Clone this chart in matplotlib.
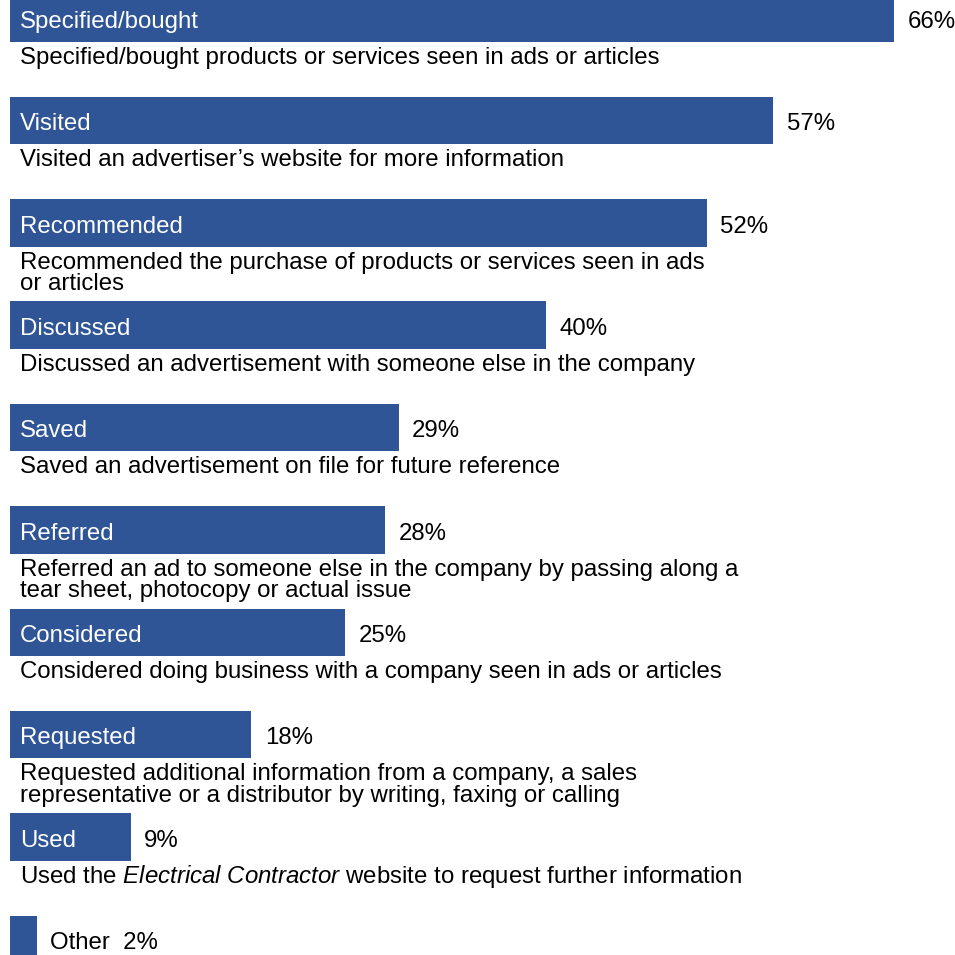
import matplotlib
matplotlib.use("Agg")
import matplotlib.pyplot as plt

plt.rcParams["font.family"] = ["Liberation Sans", "DejaVu Sans"]
plt.rcParams["mathtext.fontset"] = "custom"
plt.rcParams["mathtext.rm"] = "Liberation Sans"
plt.rcParams["mathtext.it"] = "Liberation Sans:italic"

# Survey responses: actions taken after seeing ads or articles
labels = ["Specified/bought", "Visited", "Recommended", "Discussed", "Saved",
          "Referred", "Considered", "Requested", "Used", "Other"]
values = [66, 57, 52, 40, 29, 28, 25, 18, 9, 2]
descriptions = [
    "Specified/bought products or services seen in ads or articles",
    "Visited an advertiser\u2019s website for more information",
    "Recommended the purchase of products or services seen in ads\nor articles",
    "Discussed an advertisement with someone else in the company",
    "Saved an advertisement on file for future reference",
    "Referred an ad to someone else in the company by passing along a\ntear sheet, photocopy or actual issue",
    "Considered doing business with a company seen in ads or articles",
    "Requested additional information from a company, a sales\nrepresentative or a distributor by writing, faxing or calling",
    r"Used the $\mathit{Electrical\ Contractor}$ website to request further information",
    "",
]

BAR_COLOR = "#2F5597"
FS = 17.25
BAR_H = 0.464
PT = 0.72          # points per pixel at 100 dpi
LINE_STEP = 21.7   # pixels between description lines

fig = plt.figure(figsize=(9.55, 9.55), dpi=100)
ax = fig.add_axes([0, 0, 1, 1])
ax.set_xlim(-0.784, 70.56)
ax.set_ylim(9.152, -0.177)
ax.axis("off")

rows = list(range(len(labels)))
ax.barh(rows, values, height=BAR_H, left=0, color=BAR_COLOR, align="center")

for i, (lab, val, desc) in enumerate(zip(labels, values, descriptions)):
    if lab == "Other":
        # bar too narrow for its label: put label and value beside it
        ax.annotate(f"{lab}  {val}%", xy=(val, i), xytext=(13 * PT, -9.7 * PT),
                    textcoords="offset points", ha="left", va="baseline",
                    fontsize=FS, color="black")
        continue
    ax.annotate(lab, xy=(0, i), xytext=(9.5 * PT, -9.7 * PT),
                textcoords="offset points", ha="left", va="baseline",
                fontsize=FS, color="white")
    ax.annotate(f"{val}%", xy=(val, i), xytext=(13.3 * PT, -9.7 * PT),
                textcoords="offset points", ha="left", va="baseline",
                fontsize=FS, color="black")
    for k, line in enumerate(desc.split("\n") if desc else []):
        ax.annotate(line, xy=(0, i + BAR_H / 2),
                    xytext=(10 * PT, -(22 + LINE_STEP * k) * PT),
                    textcoords="offset points", ha="left", va="baseline",
                    fontsize=FS, color="black")

fig.savefig("out.png", dpi=100, facecolor="white")
